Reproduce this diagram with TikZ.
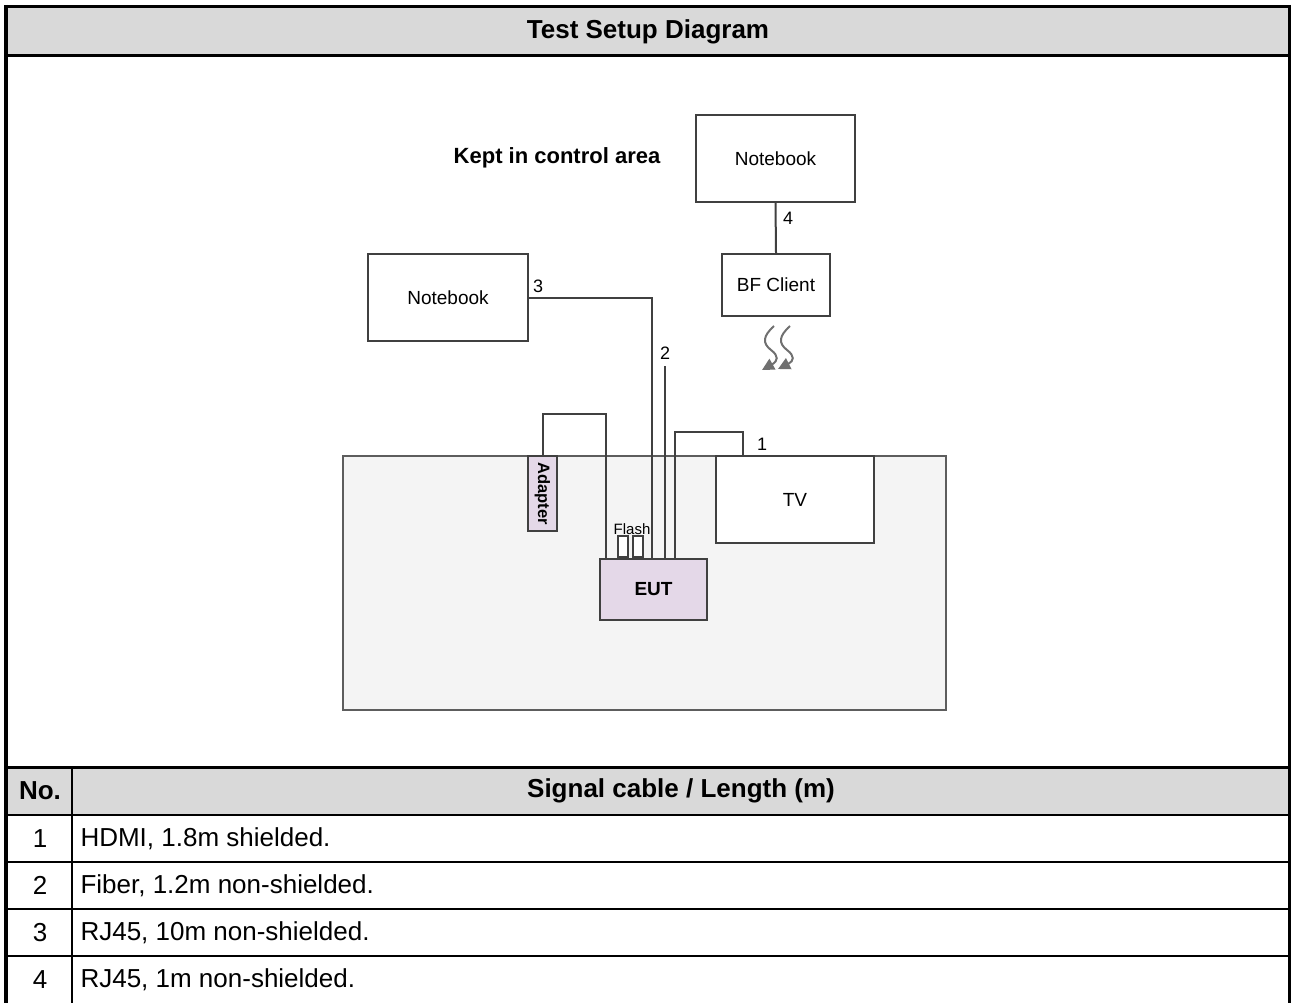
\documentclass[tikz,border=0pt]{standalone}
\usepackage{fontspec}
\setmainfont{Liberation Sans}
\usetikzlibrary{arrows.meta,calc}
\definecolor{hdrgray}{HTML}{D9D9D9}
\definecolor{benchfill}{HTML}{F4F4F4}
\definecolor{eutfill}{HTML}{E4D8E8}
\definecolor{linegray}{HTML}{404040}
\definecolor{wavegray}{HTML}{707070}
\begin{document}
\begin{tikzpicture}[x=1pt,y=-1pt,
  devbox/.style={draw=linegray, line width=2pt, fill=white, inner sep=0pt},
  purplebox/.style={draw=linegray, line width=2pt, fill=eutfill, inner sep=0pt},
  cable/.style={draw=linegray, line width=2pt},
  wave/.style={draw=wavegray, line width=2pt, -{Triangle[length=12pt,width=12pt]}},
  tablefont/.style={font=\fontsize{26}{30}\selectfont},
  tablebold/.style={font=\fontsize{26}{30}\selectfont\bfseries},
  diafont/.style={font=\fontsize{19}{22}\selectfont},
  lbl/.style={font=\fontsize{18}{21}\selectfont, inner sep=0pt},
  tline/.style={line width=2.5pt}
]
\useasboundingbox (0,0) rectangle (1292,1003);
% ---- table backgrounds
\fill[hdrgray] (6,8) rectangle (1289,55);
\fill[hdrgray] (6,767) rectangle (1289,815);
% ---- table frame
\draw[line width=4pt] (6,5) -- (6,1003);
\draw[line width=3.5pt] (4,6.5) -- (1291,6.5);
\draw[line width=3pt] (1289.5,5) -- (1289.5,1003);
\draw[tline] (6,55.5) -- (1289,55.5);
\draw[line width=3pt] (6,767) -- (1289,767);
\foreach \yy in {815,862,909,956} \draw[tline] (6,\yy) -- (1289,\yy);
\draw[line width=1.5pt] (72,767) -- (72,1003);
% ---- table texts
\node[tablebold] (title) at (648,32) {Test Setup Diagram};
\node[tablebold] (hno) at (40,791) {No.};
\node[tablebold] (hcab) at (681,791) {Signal cable / Length (m)};
\node[tablefont] (n1) at (40,838.5) {1};
\node[tablefont] (n2) at (40,885.5) {2};
\node[tablefont] (n3) at (40,932.5) {3};
\node[tablefont] (n4) at (40,979.5) {4};
\node[tablefont, anchor=west] (t1) at (77,838.5) {HDMI, 1.8m shielded.};
\node[tablefont, anchor=west] (t2) at (77,885.5) {Fiber, 1.2m non-shielded.};
\node[tablefont, anchor=west] (t3) at (77,932.5) {RJ45, 10m non-shielded.};
\node[tablefont, anchor=west] (t4) at (77,979.5) {RJ45, 1m non-shielded.};
% ---- diagram
\node[font=\fontsize{22}{25}\selectfont\bfseries] (kept) at (557,158) {Kept in control area};
\node[draw=linegray!85, line width=2pt, fill=benchfill, minimum width=603pt, minimum height=254pt, inner sep=0pt] (bench) at (644.5,583) {};
\node[devbox, diafont, minimum width=159pt, minimum height=87pt] (nbtop) at (775.5,158.5) {Notebook};
\node[devbox, diafont, minimum width=108pt, minimum height=62pt] (bf) at (776,285) {BF Client};
\node[devbox, diafont, minimum width=160pt, minimum height=87pt] (nbleft) at (448,297.5) {Notebook};
% coordinates for cable routing
\coordinate (c1top) at (710,432);
\coordinate (actop) at (575,414);
\coordinate (c2top) at (665,366);
% cables
\draw[cable] (nbtop.south) -- (bf.north);
\node[lbl, anchor=west] (l4) at (783,218) {4};
\node[purplebox, minimum width=107pt, minimum height=61pt, font=\fontsize{19}{22}\selectfont\bfseries] (eut) at (653.5,589.5) {EUT};
\node[devbox, diafont, minimum width=158pt, minimum height=87pt] (tv) at (795,499.5) {TV};
\node[purplebox, minimum width=29pt, minimum height=75pt] (adapter) at (542.5,493.5) {};
\node[rotate=-90, font=\fontsize{16.5}{18}\selectfont\bfseries, inner sep=0pt] (adtext) at (adapter.center) {Adapter};
\draw[cable] (nbleft.east) -| ([xshift=53pt]eut.north west);
\node[lbl, anchor=west] (l3) at (533,286) {3};
\draw[cable] (c2top) -- (c2top |- eut.north);
\node[lbl] (l2) at (665,353) {2};
\draw[cable] ([xshift=76pt]eut.north west) |- (c1top) -| ([xshift=28pt]tv.north west);
\node[lbl] (l1) at (762,444) {1};
\draw[cable] (adapter.north) |- (actop) -| ([xshift=7pt]eut.north west);
% flash drive
\node[draw=linegray, line width=1.6pt, fill=white, minimum width=10pt, minimum height=21pt, inner sep=0pt, anchor=south] (fl1) at ([xshift=24pt]eut.north west) {};
\node[draw=linegray, line width=1.6pt, fill=white, minimum width=10pt, minimum height=21pt, inner sep=0pt, anchor=south] (fl2) at ([xshift=39pt]eut.north west) {};
\node[font=\fontsize{15}{17}\selectfont, inner sep=0pt] (flash) at (632,529) {Flash};
% wireless
\coordinate (w1s) at (774,326);
\coordinate (w1e) at (762,370);
\coordinate (w2s) at (790,326);
\coordinate (w2e) at (778,369);
\draw[wave] (w1s) .. controls (763,336) and (762,343) .. (771,350) .. controls (779,356) and (778,361) .. (w1e);
\draw[wave] (w2s) .. controls (779,336) and (778,343) .. (787,350) .. controls (795,356) and (794,361) .. (w2e);
\end{tikzpicture}
\end{document}
